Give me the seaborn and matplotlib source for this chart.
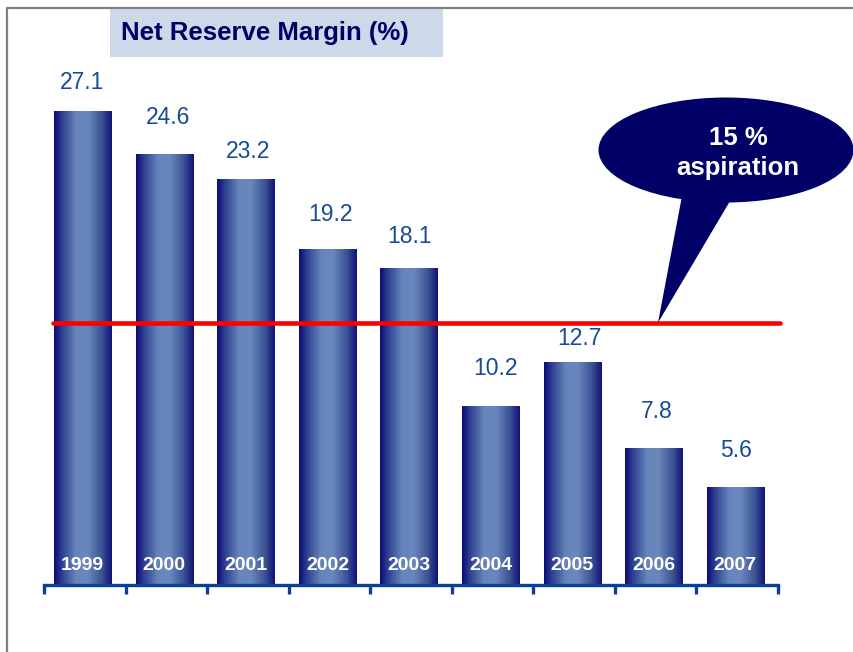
import numpy as np
import pandas as pd
import matplotlib
matplotlib.use("Agg")
import matplotlib.pyplot as plt
from matplotlib.patches import Ellipse, Polygon, Rectangle
from matplotlib.lines import Line2D
from matplotlib.colors import LinearSegmentedColormap
import seaborn as sns

# --- data -------------------------------------------------------------
years = ["1999", "2000", "2001", "2002", "2003", "2004", "2005", "2006", "2007"]
margin_pct = [27.1, 24.6, 23.2, 19.2, 18.1, 10.2, 12.7, 7.8, 5.6]
aspiration_pct = 15
title_text = "Net Reserve Margin (%)"
callout_text = "15 %\naspiration"

# per-label nudges (dx, dy in pixels above the bar top)
label_dx = [-3, 2, 0, 1, -1, 3, 5, 1, -1]
label_dy = [29, 37, 28, 35, 32, 38, 24, 37, 37]

sns.set_theme(style="white")
plt.rcParams["font.family"] = ["Liberation Sans", "DejaVu Sans"]

W, H, DPI = 854, 652, 100
fig = plt.figure(figsize=(W / DPI, H / DPI), dpi=DPI)
fig.patch.set_facecolor("white")

ax_left, ax_right = 44, 778
ax_bottom, ax_top = 585, 8
ax = fig.add_axes([ax_left / W, (H - ax_bottom) / H,
                   (ax_right - ax_left) / W, (ax_bottom - ax_top) / H])
ymax = 33.0

df = pd.DataFrame({"year": years, "margin": margin_pct})
sns.barplot(data=df, x="year", y="margin", ax=ax, width=0.7,
            color="#3b5998", saturation=1)

px_y = (ax_bottom - ax_top) / ymax          # pixels per data unit
px_x = (ax_right - ax_left) / len(years)    # pixels per category
bar_shift = -2 / px_x                       # bars sit a touch left of centre

# cylinder-like horizontal gradient on every bar
grad = LinearSegmentedColormap.from_list(
    "bar", [(0.0, "#0a0a78"), (0.12, "#2a3a8c"), (0.38, "#6685bb"),
            (0.58, "#6a88bd"), (0.82, "#3c5596"), (1.0, "#121276")])
g = np.linspace(0, 1, 256).reshape(1, -1)
for p in list(ax.patches):
    x0, w, h = p.get_x() + bar_shift, p.get_width(), p.get_height()
    p.set_facecolor("none")
    p.set_edgecolor("none")
    ax.imshow(g, cmap=grad, aspect="auto", extent=[x0, x0 + w, 0, h],
              origin="lower", zorder=2, interpolation="bilinear")

ax.set_xlim(-0.5, len(years) - 0.5)
ax.set_ylim(0, ymax)

# value labels above bars and year labels inside bars
for i, (yr, v) in enumerate(zip(years, margin_pct)):
    ax.text(i + label_dx[i] / px_x, v + label_dy[i] / px_y, f"{v:.1f}",
            ha="center", va="center", fontsize=16.5, color="#174a98", zorder=5)
    ax.text(i + bar_shift, 22 / px_y, yr, ha="center", va="center_baseline",
            fontsize=14, fontweight="bold", color="white", zorder=5)

# aspiration line
ax.plot([-0.5 + 9 / px_x, len(years) - 0.5 + 2 / px_x],
        [aspiration_pct, aspiration_pct], color="#ff0000", lw=3.3,
        solid_capstyle="round", zorder=6, clip_on=False)

# speech-bubble callout pointing at the line
tip_x = -0.5 + (658 - ax_left) / px_x
bx0 = -0.5 + (682 - ax_left) / px_x
bx1 = -0.5 + (733 - ax_left) / px_x
by = (ax_bottom - 196) / px_y
ax.add_patch(Polygon([[bx0, by], [bx1, by], [tip_x, aspiration_pct]],
                     closed=True, facecolor="#000066", edgecolor="none",
                     zorder=7, clip_on=False))
ecx = -0.5 + (726 - ax_left) / px_x
ecy = (ax_bottom - 150) / px_y
ax.add_patch(Ellipse((ecx, ecy), 255 / px_x, 105 / px_y, facecolor="#000066",
                     edgecolor="none", zorder=7, clip_on=False))
ax.text(-0.5 + (738 - ax_left) / px_x, (ax_bottom - 153) / px_y, callout_text,
        ha="center", va="center", ma="center", fontsize=18.5, fontweight="bold",
        color="white", zorder=8, linespacing=1.35, clip_on=False)

# axis styling: only a thick blue baseline with ticks between categories
for s in ["top", "right", "left"]:
    ax.spines[s].set_visible(False)
ax.spines["bottom"].set_color("#0b4096")
ax.spines["bottom"].set_linewidth(2.4)
ax.spines["bottom"].set_zorder(9)
ax.set_xticks(np.arange(-0.5, len(years), 1.0))
ax.set_xticklabels([])
ax.tick_params(axis="x", direction="out", length=6.5, width=2.4,
               color="#0b4096", bottom=True)
ax.set_yticks([])
ax.set_xlabel("")
ax.set_ylabel("")
ax.patch.set_alpha(0)

# title banner
fig.add_artist(Rectangle((110 / W, 1 - 57 / H), (443 - 110) / W, (57 - 8) / H,
                         transform=fig.transFigure, facecolor="#cdd8e9",
                         edgecolor="none", zorder=1))
fig.text(121 / W, 1 - 33 / H, title_text, ha="left", va="center",
         fontsize=18.5, fontweight="bold", color="#000066", zorder=2)

# slide frame lines on the left and top
fig.add_artist(Line2D([7.5 / W, 7.5 / W], [0, 1 - 7.5 / H],
                      transform=fig.transFigure, color="#808080", lw=1.6))
fig.add_artist(Line2D([7.5 / W, 1], [1 - 7.5 / H, 1 - 7.5 / H],
                      transform=fig.transFigure, color="#808080", lw=1.6))

fig.savefig("out.png", dpi=DPI)
